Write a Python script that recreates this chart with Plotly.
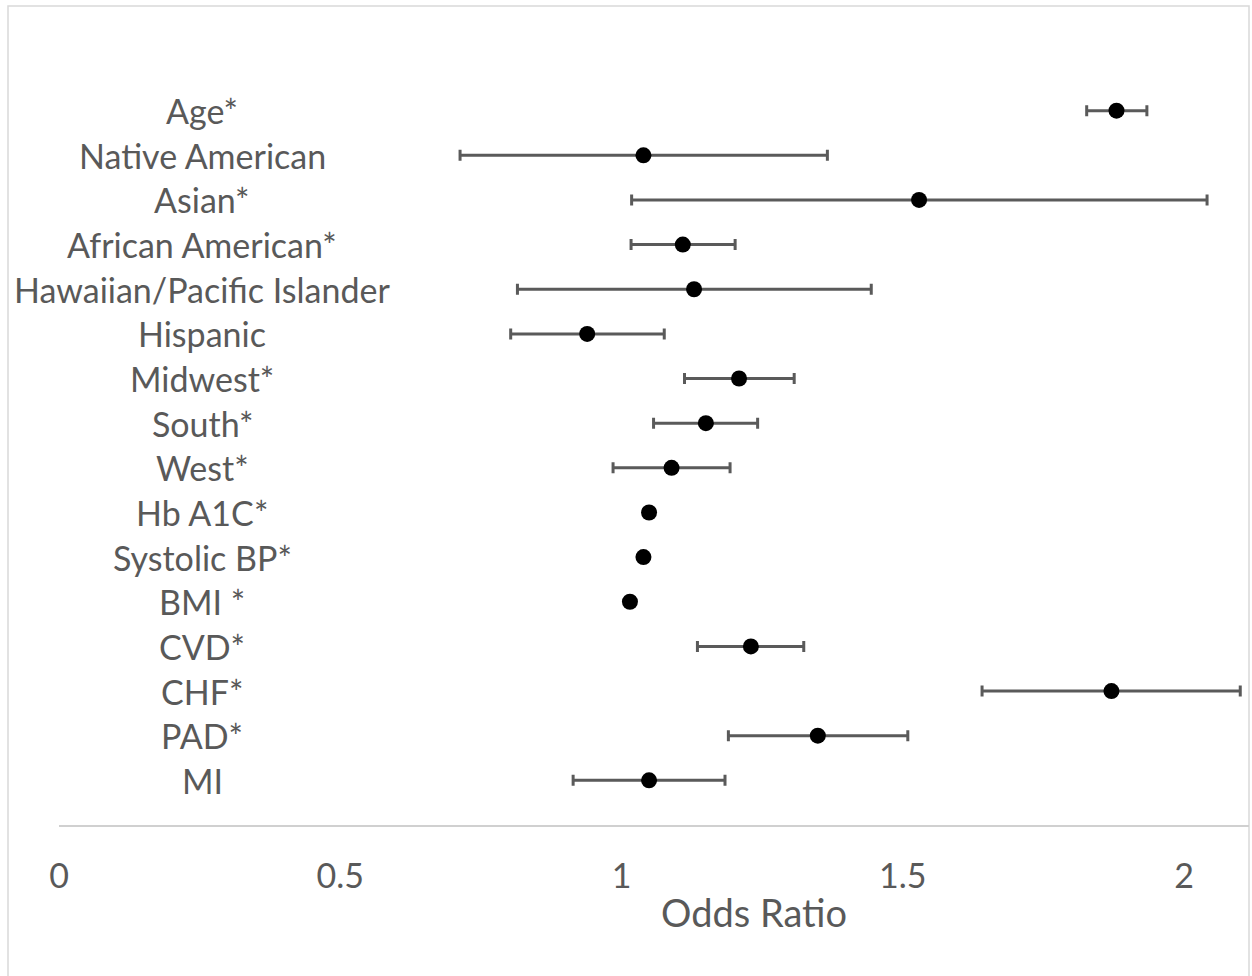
import plotly.graph_objects as go

labels = ["Age*", "Native American", "Asian*", "African American*",
          "Hawaiian/Pacific Islander", "Hispanic", "Midwest*", "South*",
          "West*", "Hb A1C*", "Systolic BP*", "BMI *", "CVD*", "CHF*",
          "PAD*", "MI"]
odds_ratio = [1.880, 1.039, 1.529, 1.109, 1.129, 0.939, 1.209, 1.150,
              1.089, 1.049, 1.039, 1.015, 1.230, 1.871, 1.349, 1.049]
ci_low = [1.827, 0.713, 1.018, 1.017, 0.815, 0.803, 1.112, 1.057,
          0.985, 1.043, 1.034, 1.010, 1.135, 1.641, 1.190, 0.914]
ci_high = [1.934, 1.366, 2.041, 1.202, 1.444, 1.076, 1.307, 1.242,
           1.193, 1.055, 1.045, 1.021, 1.324, 2.100, 1.509, 1.184]
x_ticks = [0, 0.5, 1, 1.5, 2]
x_tick_text = ["0", "0.5", "1", "1.5", "2"]

n = len(labels)
ypos = [n - i for i in range(n)]
err_plus = [h - o for h, o in zip(ci_high, odds_ratio)]
err_minus = [o - l for o, l in zip(odds_ratio, ci_low)]

TEXT = "#595959"
FONT = "Lato"

fig = go.Figure()
fig.add_trace(go.Scatter(
    x=odds_ratio, y=ypos, mode="markers",
    marker=dict(color="black", size=16),
    error_x=dict(type="data", symmetric=False, array=err_plus,
                 arrayminus=err_minus, color="#5a5a5a", thickness=3, width=5.5),
    showlegend=False, hoverinfo="x+y",
))

W, H = 1252, 976
ml, mr, mt, mb = 59, 3, 66, 151
pw = W - ml - mr
ph = H - mt - mb

for lab, y in zip(labels, ypos):
    fig.add_annotation(text=lab, xref="paper", yref="y", x=(202 - ml) / pw, y=y,
                       xanchor="center", yanchor="middle", showarrow=False,
                       font=dict(family=FONT, size=34, color=TEXT))

fig.add_annotation(text="Odds Ratio", xref="paper", yref="paper",
                   x=(754 - ml) / pw, y=-(912 - (mt + ph)) / ph,
                   xanchor="center", yanchor="middle", showarrow=False,
                   font=dict(family=FONT, size=38, color=TEXT))

# outer chart frame
fig.add_shape(type="rect", xref="paper", yref="paper",
              x0=(8 - ml) / pw, x1=1.0, y0=-(H + 10 - mt - ph) / ph,
              y1=1 + (mt - 6) / ph, line=dict(color="#d9d9d9", width=1.5),
              layer="below")

fig.update_layout(
    width=W, height=H,
    margin=dict(l=ml, r=mr, t=mt, b=mb),
    paper_bgcolor="white", plot_bgcolor="white",
    font=dict(family=FONT, color=TEXT),
    xaxis=dict(range=[0, pw / 562.5], tickvals=x_ticks, ticktext=x_tick_text,
               showgrid=False, zeroline=False, showline=True,
               linecolor="#d0d0d0", linewidth=2, ticks="",
               ticklabelstandoff=20,
               tickfont=dict(family=FONT, size=34, color=TEXT)),
    yaxis=dict(range=[0, n + 1], visible=False, showgrid=False,
               zeroline=False),
)

fig.write_html("out.html", config={"displayModeBar": False},
               post_script="document.body.style.margin='0';")
